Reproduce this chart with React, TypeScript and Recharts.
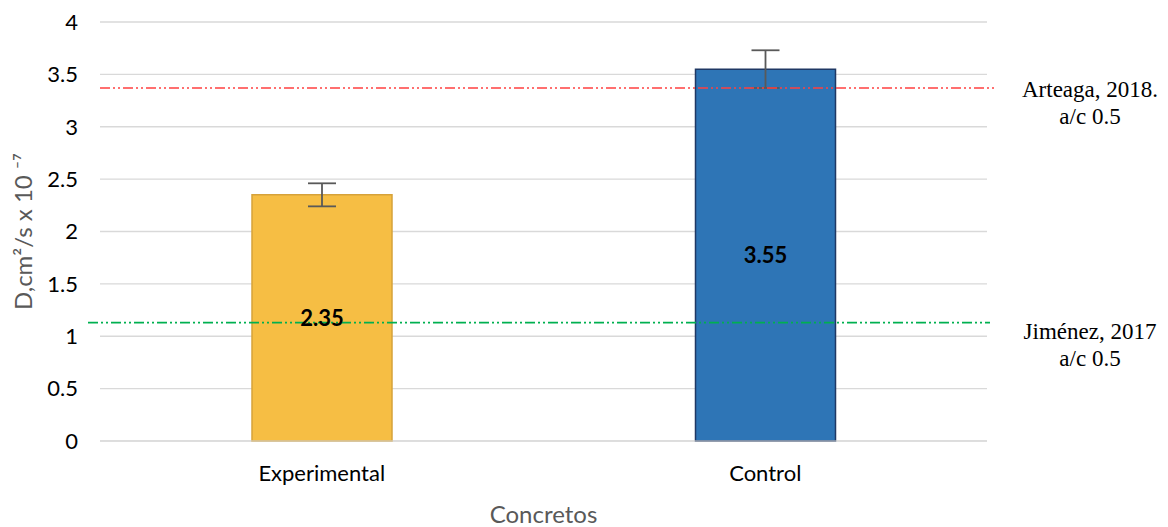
import { BarChart, Bar, XAxis, YAxis, CartesianGrid, ReferenceLine, ErrorBar, LabelList, Cell } from "recharts";

const categories = ["Experimental", "Control"];
const diffusion = [2.35, 3.55];
const deviation = [0.11, 0.18];
const yTicks = [0, 0.5, 1, 1.5, 2, 2.5, 3, 3.5, 4];

const arteagaValue = 3.37;
const jimenezValue = 1.13;

const fills = ["#F6BE44", "#2E75B6"];
const borders = ["#D6A23A", "#1F3864"];

const data = categories.map((name, i) => ({ name, value: diffusion[i], err: deviation[i] }));

const tickFont = "Lato, 'Open Sans', sans-serif";
const serifFont = "'Liberation Serif', 'Times New Roman', serif";

// reference line that runs a bit past the plot, with a two-line caption to the right
const refShape = (color: string, leftExt: number, rightExt: number, lines: string[], firstDy: number) =>
  (props: any) => {
    const { x1, x2, y1 } = props;
    const cx = Math.max(x1, x2) + 103;
    return (
      <g>
        <line
          x1={Math.min(x1, x2) - leftExt}
          x2={Math.max(x1, x2) + rightExt}
          y1={y1}
          y2={y1}
          stroke={color}
          strokeWidth={1.6}
          strokeDasharray="10 3 2 3 2 3"
        />
        {lines.map((t, i) => (
          <text
            key={t}
            x={cx}
            y={y1 + firstDy + i * 27}
            textAnchor="middle"
            fontFamily={serifFont}
            fontSize={23}
            fill="#000"
          >
            {t}
          </text>
        ))}
      </g>
    );
  };

export default function App() {
  return (
    <div style={{ position: "absolute", left: 0, top: 0, background: "#fff" }}>
      <BarChart
        width={1168}
        height={527}
        data={data}
        margin={{ top: 22, right: 181, left: 30, bottom: 4 }}
        barSize={140}
      >
        <CartesianGrid vertical={false} stroke="#D9D9D9" strokeWidth={1.3} />
        <XAxis
          dataKey="name"
          height={82}
          stroke="#D9D9D9"
          tickLine={false}
          tickMargin={18}
          tick={{ fill: "#000", fontSize: 22, fontFamily: tickFont }}
          label={{
            value: "Concretos",
            position: "insideBottom",
            offset: 0,
            fill: "#595959",
            fontSize: 24,
            fontFamily: tickFont,
          }}
        />
        <YAxis
          width={70}
          domain={[0, 4]}
          ticks={yTicks}
          axisLine={false}
          tickLine={false}
          tickMargin={16}
          tick={{ fill: "#000", fontSize: 22, fontFamily: tickFont }}
          label={{
            value: "D,cm²/s x 10 ⁻⁷",
            angle: -90,
            position: "insideLeft",
            offset: -7,
            fill: "#595959",
            fontSize: 24,
            fontFamily: tickFont,
            style: { textAnchor: "middle" },
          }}
        />
        <Bar dataKey="value" isAnimationActive={false} strokeWidth={1.5}>
          {data.map((d, i) => (
            <Cell key={d.name} fill={fills[i]} stroke={borders[i]} />
          ))}
          <ErrorBar dataKey="err" width={14} stroke="#595959" strokeWidth={1.8} direction="y" />
          <LabelList
            dataKey="value"
            position="center"
            formatter={(v: any) => Number(v).toFixed(2)}
            fill="#000"
            fontSize={22}
            fontWeight="bold"
            fontFamily={tickFont}
          />
        </Bar>
        <ReferenceLine
          y={arteagaValue}
          stroke="#FF4040"
          ifOverflow="visible"
          shape={refShape("#FF4040", 0, 10, ["Arteaga, 2018.", "a/c 0.5"], 9)}
        />
        <ReferenceLine
          y={jimenezValue}
          stroke="#00B050"
          ifOverflow="visible"
          shape={refShape("#00B050", 12, 3, ["Jiménez, 2017", "a/c 0.5"], 16)}
        />
      </BarChart>
    </div>
  );
}
